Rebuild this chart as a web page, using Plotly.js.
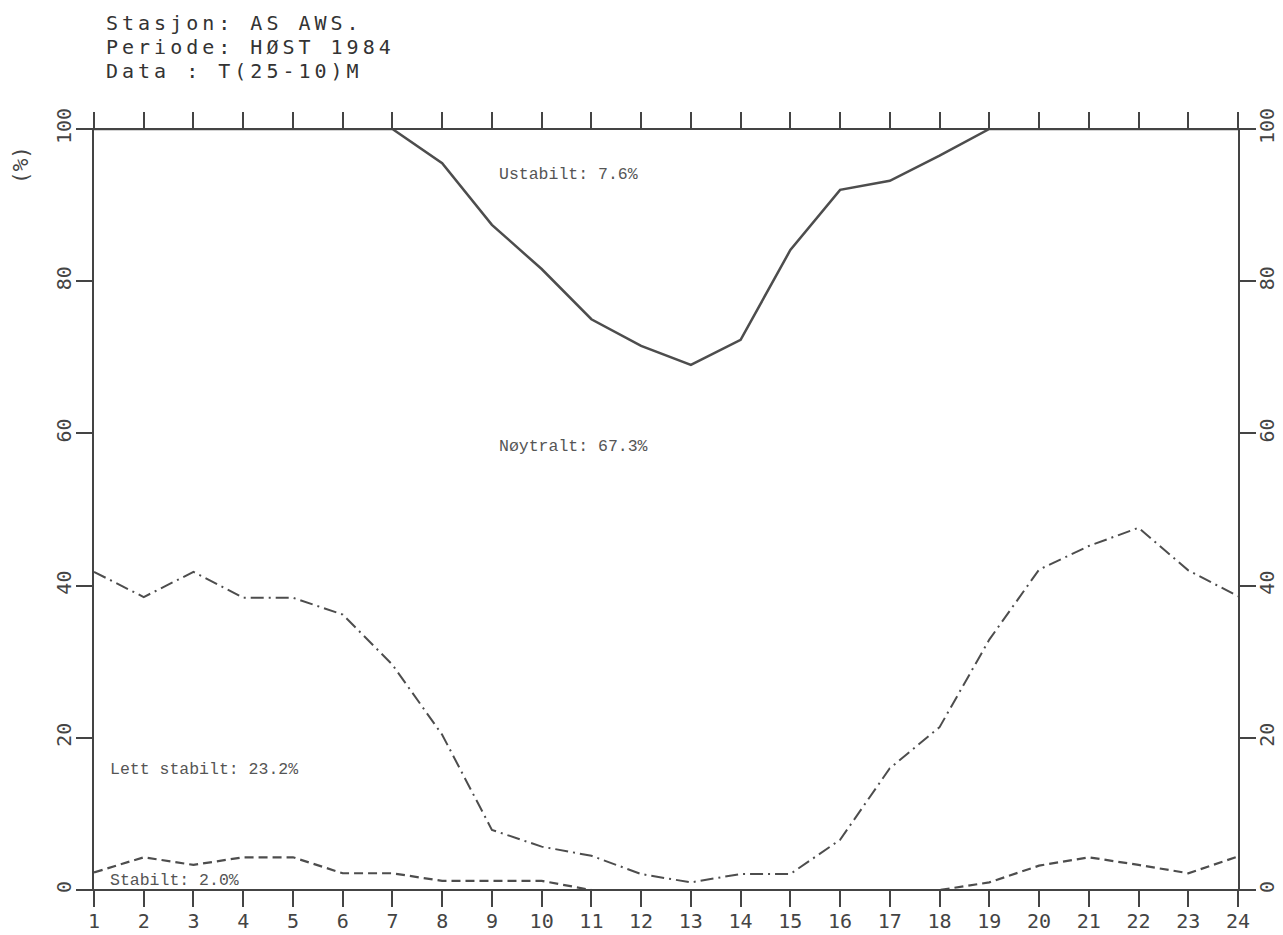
<!DOCTYPE html>
<html>
<head>
<meta charset="utf-8">
<script src="https://cdn.plot.ly/plotly-3.0.1.min.js"></script>
<style>
html, body { margin: 0; padding: 0; background: #fff; }
#chart { width: 1283px; height: 935px; }
.annotation[data-index="0"] text,
.annotation[data-index="1"] text,
.annotation[data-index="2"] text { letter-spacing: 4px; }
</style>
</head>
<body>
<div id="chart"></div>
<script>
// Hours of day (x axis)
const hours = [1,2,3,4,5,6,7,8,9,10,11,12,13,14,15,16,17,18,19,20,21,22,23,24];
// Upper boundary: Nøytralt / Ustabilt (cumulative %)
const ustabiltBoundary = [100,100,100,100,100,100,100,95.5,87.4,81.6,75.0,71.5,69.0,72.3,84.1,92.0,93.2,96.5,100,100,100,100,100,100];
// Boundary: Lett stabilt / Nøytralt (cumulative %)
const lettStabiltBoundary = [41.8,38.5,41.8,38.4,38.4,36.2,29.6,20.4,7.9,5.7,4.5,2.1,1.0,2.1,2.1,6.6,16.0,21.4,32.9,42.1,45.2,47.6,42.0,38.6];
// Boundary: Stabilt / Lett stabilt (cumulative %)
const stabiltBoundary = [2.3,4.3,3.3,4.3,4.3,2.2,2.2,1.2,1.2,1.2,0,0,0,0,0,0,0,0,1.0,3.2,4.3,3.3,2.2,4.4];
// Tick labels
const yTicks = [0,20,40,60,80,100];
const headerLines = ["Stasjon: AS AWS.", "Periode: HØST 1984", "Data\u00a0: T(25-10)M"];
const classLabels = [
  {text: "Ustabilt: 7.6%", x: 9.1, y: 94},
  {text: "Nøytralt: 67.3%", x: 9.1, y: 58.3},
  {text: "Lett stabilt: 23.2%", x: 1.28, y: 15.8},
  {text: "Stabilt: 2.0%", x: 1.28, y: 1.3}
];

const lineColor = '#4d4d4d';
const axisColor = '#444';
const tickFont = {family: 'DejaVu Sans Mono', size: 20, color: axisColor};

const traces = [
  {x: hours, y: ustabiltBoundary, xaxis: 'x2', yaxis: 'y2', mode: 'lines',
   line: {color: lineColor, width: 2.5}, hoverinfo: 'skip', cliponaxis: false},
  {x: hours, y: lettStabiltBoundary, mode: 'lines',
   line: {color: lineColor, width: 2, dash: '13px,5px,2px,5px'}, hoverinfo: 'skip'},
  {x: hours, y: stabiltBoundary, mode: 'lines',
   line: {color: lineColor, width: 2.2, dash: '9px,5px'}, hoverinfo: 'skip'}
];

const annotations = [];
const headerY = [23, 47, 71];
const spacing = 4;
headerLines.forEach((t, i) => {
  const leftPx = 104 + t.length * spacing / 2;
  annotations.push({
    text: t, xref: 'paper', yref: 'paper',
    x: (leftPx - 94) / 1144, y: (890 - headerY[i]) / 761,
    xanchor: 'left', yanchor: 'middle', showarrow: false,
    font: {family: 'DejaVu Sans Mono', size: 20, color: '#333'}
  });
});
classLabels.forEach(c => {
  annotations.push({
    text: c.text, x: c.x, y: c.y, xref: 'x', yref: 'y',
    xanchor: 'left', yanchor: 'middle', showarrow: false,
    font: {family: 'Liberation Mono', size: 16.5, color: '#555'}
  });
});
annotations.push({
  text: '(%)', xref: 'paper', yref: 'paper',
  x: (21 - 94) / 1144, y: (890 - 165) / 761,
  xanchor: 'center', yanchor: 'middle', showarrow: false, textangle: -90,
  font: {family: 'DejaVu Sans Mono', size: 21, color: axisColor}
});

const xBase = {
  range: [1, 24], tickvals: hours, ticktext: hours.map(String),
  ticks: 'outside', ticklen: 16, tickwidth: 2, tickcolor: axisColor,
  showgrid: false, zeroline: false, showline: false, fixedrange: true,
  tickfont: tickFont
};
const yBase = {
  range: [0, 100], tickvals: yTicks, ticktext: yTicks.map(String),
  ticks: 'outside', ticklen: 16, tickwidth: 2, tickcolor: axisColor,
  showgrid: false, zeroline: false, showline: true, linecolor: axisColor, linewidth: 2,
  tickangle: -90, fixedrange: true, tickfont: tickFont
};

const layout = {
  width: 1283, height: 935,
  margin: {l: 94, r: 45, t: 129, b: 45, pad: 0},
  paper_bgcolor: '#fff', plot_bgcolor: '#fff',
  showlegend: false,
  xaxis: Object.assign({}, xBase, {side: 'bottom', ticklabelstandoff: -3}),
  xaxis2: Object.assign({}, xBase, {side: 'top', overlaying: 'x', showticklabels: false}),
  yaxis: Object.assign({}, yBase, {side: 'left', ticklabelstandoff: -3}),
  yaxis2: Object.assign({}, yBase, {side: 'right', overlaying: 'y', ticklabelstandoff: -6}),
  shapes: [
    {type: 'line', xref: 'paper', yref: 'paper', x0: -17/1144, x1: 1 + 17/1144, y0: 0, y1: 0,
     line: {color: axisColor, width: 2}},
    {type: 'line', xref: 'paper', yref: 'paper', x0: -17/1144, x1: 1 + 17/1144, y0: 1, y1: 1,
     line: {color: axisColor, width: 2}}
  ],
  annotations: annotations
};

Plotly.newPlot('chart', traces, layout, {staticPlot: true, displayModeBar: false});
</script>
</body>
</html>
